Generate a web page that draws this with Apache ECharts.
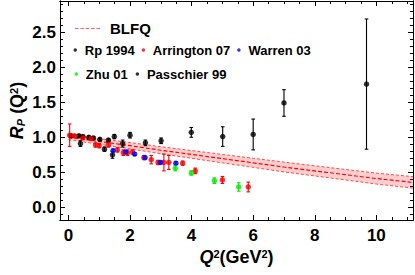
<!DOCTYPE html>
<html><head><meta charset="utf-8">
<script src="https://cdn.jsdelivr.net/npm/echarts@6/dist/echarts.min.js"></script>
<style>html,body{margin:0;padding:0;background:#fff}#c{width:415px;height:275px}</style>
</head><body><div id="c"></div>
<script>
// ---- tick labels ----
const xMajorTicks = [0, 2, 4, 6, 8, 10];
const xMinorTicks = [0.5, 1, 1.5, 2.5, 3, 3.5, 4.5, 5, 5.5, 6.5, 7, 7.5, 8.5, 9, 9.5, 10.5, 11];
const yMajorTicks = [0, 0.5, 1, 1.5, 2, 2.5];
const yMinorTicks = [-0.1, 0.1, 0.2, 0.3, 0.4, 0.6, 0.7, 0.8, 0.9, 1.1, 1.2, 1.3, 1.4, 1.6, 1.7, 1.8, 1.9, 2.1, 2.2, 2.3, 2.4, 2.6, 2.7, 2.8, 2.9];

// ---- BLFQ band ----
const blfqQ2    = [0, 1, 2, 3, 4, 5, 6, 7, 8, 9, 10, 11.2];
const blfqMid   = [1.0, 0.94, 0.88, 0.815, 0.755, 0.695, 0.635, 0.575, 0.52, 0.465, 0.41, 0.355];
const blfqUpper = [1.035, 0.98, 0.925, 0.865, 0.81, 0.755, 0.70, 0.645, 0.592, 0.54, 0.488, 0.437];
const blfqLower = [0.965, 0.90, 0.835, 0.765, 0.70, 0.635, 0.57, 0.505, 0.448, 0.39, 0.332, 0.273];

// ---- data sets ----
const rpQ2  = [0.09, 0.34, 0.47, 0.66, 0.81, 1.02, 1.17, 1.30, 1.43, 1.49, 1.76, 2.0, 2.5, 3.01, 3.99, 5.01, 6.0, 7.0, 9.68];
const rpR   = [1.02, 1.02, 1.01, 1.00, 0.99, 0.97, 0.83, 0.96, 0.75, 1.01, 0.91, 1.03, 0.92, 0.95, 1.07, 1.01, 1.04, 1.49, 1.76];
const rpErr = [0.02, 0.02, 0.02, 0.02, 0.02, 0.02, 0.03, 0.02, 0.05, 0.03, 0.05, 0.04, 0.04, 0.04, 0.07, 0.14, 0.22, 0.19, 0.93];

const arQ2  = [0.04, 0.2, 0.47, 0.73, 0.88, 1.0, 1.30, 1.59, 1.78, 1.92, 2.08, 2.45, 2.69, 2.91, 3.10, 3.26, 3.71, 4.12, 5.0, 5.84];
const arR   = [1.03, 1.02, 0.99, 0.98, 0.89, 0.88, 0.89, 0.82, 0.78, 0.78, 0.79, 0.71, 0.68, 0.64, 0.64, 0.64, 0.63, 0.52, 0.39, 0.29];
const arErr = [0.16, 0.02, 0.02, 0.02, 0.03, 0.03, 0.03, 0.03, 0.04, 0.04, 0.03, 0.03, 0.06, 0.03, 0.12, 0.10, 0.03, 0.04, 0.05, 0.07];

const waQ2  = [1.45, 1.86, 2.15, 2.49, 2.99, 3.49];
const waR   = [0.81, 0.79, 0.76, 0.71, 0.64, 0.63];
const waErr = [0.02, 0.02, 0.02, 0.02, 0.02, 0.02];

const zhQ2  = [3.47, 3.99, 4.74, 5.53];
const zhR   = [0.56, 0.49, 0.38, 0.29];
const zhErr = [0.04, 0.03, 0.04, 0.06];

const paQ2  = [0.39];
const paR   = [0.91];
const paErr = [0.04];

// ---- helpers ----
const FONT = 'Liberation Sans';
const X_MIN = -0.274, X_MAX = 11.19, Y_MIN = -0.182, Y_MAX = 2.947;
function pts(xs, ys) { return xs.map((x, i) => [x, ys[i]]); }
function errData(xs, ys, es) { return xs.map((x, i) => [x, ys[i], es[i]]); }
function errRender(color) {
  return function (params, api) {
    const x = api.value(0), y = api.value(1), e = api.value(2);
    const t = api.coord([x, y + e]), b = api.coord([x, y - e]);
    const w = 1.8;
    const st = { stroke: color, lineWidth: 1.1 };
    return { type: 'group', children: [
      { type: 'line', shape: { x1: t[0], y1: t[1], x2: b[0], y2: b[1] }, style: st },
      { type: 'line', shape: { x1: t[0] - w, y1: t[1], x2: t[0] + w, y2: t[1] }, style: st },
      { type: 'line', shape: { x1: b[0] - w, y1: b[1], x2: b[0] + w, y2: b[1] }, style: st }
    ]};
  };
}
function errSeries(name, xs, ys, es, color) {
  return { type: 'custom', name: name, renderItem: errRender(color), data: errData(xs, ys, es),
           encode: { x: 0, y: 1 }, z: 3, silent: true, clip: true };
}
function dotSeries(name, xs, ys, color) {
  return { type: 'scatter', name: name, data: pts(xs, ys), symbol: 'circle', symbolSize: 5.5,
           itemStyle: { color: color }, z: 4, silent: true };
}
function xAx(pos, ticks, len, labels) {
  return { type: 'value', position: pos, min: X_MIN, max: X_MAX, gridIndex: 0,
    axisLine: { show: true, onZero: false, lineStyle: { color: '#000', width: 1 } },
    axisTick: { show: true, inside: true, length: len, customValues: ticks, lineStyle: { color: '#000' } },
    axisLabel: { show: labels, customValues: ticks, margin: 7, color: '#000', fontFamily: FONT, fontWeight: 'bold', fontSize: 17 },
    splitLine: { show: false } };
}
function yAx(pos, ticks, len, labels) {
  return { type: 'value', position: pos, min: Y_MIN, max: Y_MAX, gridIndex: 0,
    axisLine: { show: true, onZero: false, lineStyle: { color: '#000', width: 1 } },
    axisTick: { show: true, inside: true, length: len, customValues: ticks, lineStyle: { color: '#000' } },
    axisLabel: { show: labels, customValues: ticks, margin: 4, color: '#000', fontFamily: FONT, fontWeight: 'bold', fontSize: 17,
      formatter: v => v.toFixed(1) },
    splitLine: { show: false } };
}

const xMain = xAx('bottom', xMajorTicks, 5, true);
xMain.name = '{i|Q}{p|2}(GeV{p|2})';
xMain.nameLocation = 'middle';
xMain.nameMoveOverlap = false;
xMain.nameGap = 28;
xMain.nameTextStyle = { color: '#000', fontFamily: FONT, fontWeight: 'bold', fontSize: 18,
  rich: { i: { fontStyle: 'italic', fontWeight: 'bold', fontSize: 18, fontFamily: FONT },
          p: { fontSize: 11, fontWeight: 'bold', fontFamily: FONT, verticalAlign: 'top' } } };

const yMain = yAx('left', yMajorTicks, 5, true);
yMain.name = '{i|R}{s|P} (Q{p|2})';
yMain.nameLocation = 'middle';
yMain.nameMoveOverlap = false;
yMain.nameRotate = 90;
yMain.nameGap = 34;
yMain.nameTextStyle = { color: '#000', fontFamily: FONT, fontWeight: 'bold', fontSize: 18,
  rich: { i: { fontStyle: 'italic', fontWeight: 'bold', fontSize: 18, fontFamily: FONT },
          s: { fontStyle: 'italic', fontSize: 11, fontWeight: 'bold', fontFamily: FONT, verticalAlign: 'bottom' },
          p: { fontSize: 11, fontWeight: 'bold', fontFamily: FONT, verticalAlign: 'top' } } };

const dashIcon = 'path://M0,0h3.4v1h-3.4z M5.1,0h3.4v1h-3.4z M10.2,0h3.4v1h-3.4z M15.3,0h3.4v1h-3.4z M20.4,0h3.4v1h-3.4z';

const option = {
  animation: false,
  backgroundColor: '#fff',
  grid: { left: 57, top: 1, width: 356, height: 219, containLabel: false },
  xAxis: [xMain, xAx('bottom', xMinorTicks, 3, false), xAx('top', xMajorTicks, 5, false), xAx('top', xMinorTicks, 3, false)],
  yAxis: [yMain, yAx('left', yMinorTicks, 3, false), yAx('right', yMajorTicks, 5, false), yAx('right', yMinorTicks, 3, false)],
  legend: [
    { data: [{ name: 'BLFQ', icon: dashIcon }], left: 75, top: 21, padding: 0, itemWidth: 25, itemHeight: 1.6,
      itemStyle: { color: '#ff6262' },
      textStyle: { color: '#000', fontFamily: FONT, fontWeight: 'bold', fontSize: 15, padding: [0, 0, 0, 5] } },
    { data: ['Rp 1994', 'Arrington 07', 'Warren 03'], left: 73.5, top: 43.5, padding: 0, icon: 'circle',
      itemWidth: 9, itemHeight: 3.5, itemGap: 7,
      textStyle: { color: '#000', fontFamily: FONT, fontWeight: 'bold', fontSize: 13 } },
    { data: ['Zhu 01', 'Passchier 99'], left: 74.5, top: 67.5, padding: 0, icon: 'circle',
      itemWidth: 9, itemHeight: 3.5, itemGap: 8,
      textStyle: { color: '#000', fontFamily: FONT, fontWeight: 'bold', fontSize: 13 } }
  ],
  series: [
    { type: 'custom', name: 'band', silent: true, clip: true, z: 1,
      data: [[blfqQ2[0], blfqMid[0]]], encode: { x: 0, y: 1 },
      renderItem: function (params, api) {
        const p = [];
        for (let i = 0; i < blfqQ2.length; i++) p.push(api.coord([blfqQ2[i], blfqUpper[i]]));
        for (let i = blfqQ2.length - 1; i >= 0; i--) p.push(api.coord([blfqQ2[i], blfqLower[i]]));
        return { type: 'polygon', shape: { points: p }, style: { fill: 'rgba(255,70,70,0.26)' } };
      } },
    { type: 'line', name: 'BLFQ upper', data: pts(blfqQ2, blfqUpper), symbol: 'none', silent: true, z: 2,
      lineStyle: { color: '#ff4a4a', width: 1, type: [3, 2] } },
    { type: 'line', name: 'BLFQ lower', data: pts(blfqQ2, blfqLower), symbol: 'none', silent: true, z: 2,
      lineStyle: { color: '#ff4a4a', width: 1, type: [3, 2] } },
    { type: 'line', name: 'BLFQ', data: pts(blfqQ2, blfqMid), symbol: 'none', silent: true, z: 2,
      itemStyle: { color: '#ff0000' }, lineStyle: { color: '#ff0000', width: 1.2, type: [4, 2] } },
    errSeries('Rp err', rpQ2, rpR, rpErr, '#000'),
    errSeries('Ar err', arQ2, arR, arErr, '#ff0000'),
    errSeries('Wa err', waQ2, waR, waErr, '#0000ff'),
    errSeries('Zh err', zhQ2, zhR, zhErr, '#00ee00'),
    errSeries('Pa err', paQ2, paR, paErr, '#000'),
    dotSeries('Rp 1994', rpQ2, rpR, '#000'),
    dotSeries('Arrington 07', arQ2, arR, '#ff0000'),
    dotSeries('Warren 03', waQ2, waR, '#0000ff'),
    dotSeries('Zhu 01', zhQ2, zhR, '#00ee00'),
    dotSeries('Passchier 99', paQ2, paR, '#000')
  ]
};
const chart = echarts.init(document.getElementById('c'), null, { renderer: 'svg' });
chart.setOption(option);
</script>
</body></html>
